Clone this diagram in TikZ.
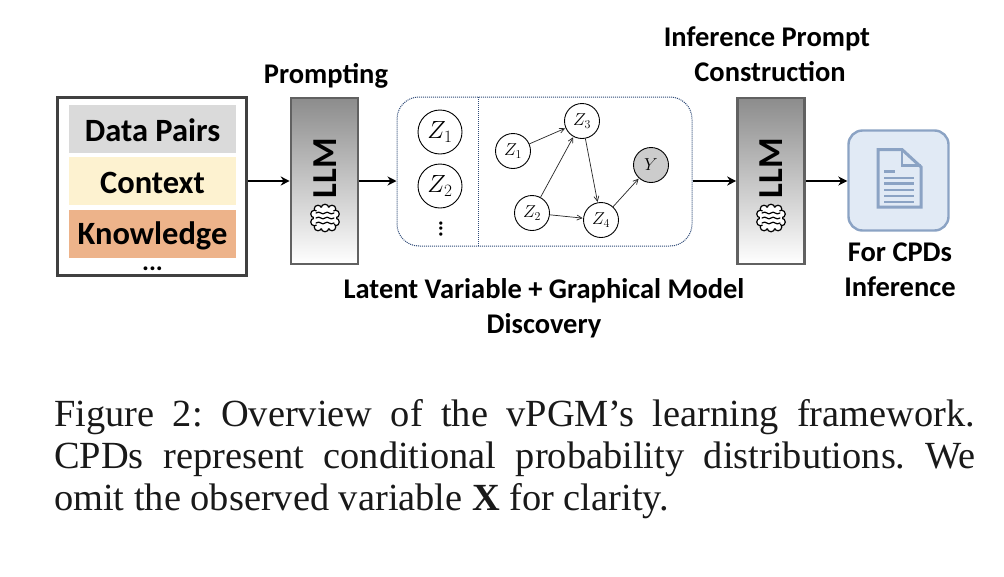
\documentclass[tikz,border=0pt]{standalone}
\usepackage{fontspec}
\setmainfont{Liberation Serif}
\newfontfamily\lab{Carlito}[BoldFont={Carlito Bold}]
\usetikzlibrary{arrows.meta}
\definecolor{docblue}{HTML}{8BA3C4}
\definecolor{docfill}{HTML}{E1EAF5}
\definecolor{dotblue}{HTML}{2F4A78}
\definecolor{barone}{HTML}{DADADA}
\definecolor{bartwo}{HTML}{FDF2D0}
\definecolor{barthree}{HTML}{EDB38A}
\tikzset{
  lbl/.style={font=\lab\bfseries\fontsize{28.5}{32}\selectfont,inner sep=0pt,text=black},
  barbox/.style={minimum width=167,minimum height=48,inner sep=0pt,font=\lab\bfseries\fontsize{32.5}{36}\selectfont},
  bartext/.style={font=\lab\bfseries\fontsize{32.5}{36}\selectfont,inner sep=0pt},
  llmbox/.style={draw=black!62,line width=2.6,minimum width=67,minimum height=166,inner sep=0pt,top color=black!45,bottom color=white},
  llmtext/.style={rotate=90,font=\lab\bfseries\fontsize{35}{38}\selectfont,inner sep=0pt},
  bigarrow/.style={line width=2.5,-{Stealth[length=9pt,width=9pt]}},
  var/.style={circle,draw=black,line width=0.9,fill=white,inner sep=0pt},
  varbig/.style={var,minimum size=44,font=\fontsize{24}{26}\selectfont},
  varsmall/.style={var,minimum size=35,font=\fontsize{18}{20}\selectfont},
  edge/.style={draw=black!85,line width=0.7,-{Straight Barb[length=5pt,width=5pt]},shorten >=0.5pt},
  docline/.style={draw=docblue,line width=2.1},
  capt/.style={font=\fontsize{38.4}{42}\selectfont,inner sep=0pt,anchor=west,text=black!90}
}
\newcommand{\brainicon}[2]{%
  \begin{scope}[shift={(#1,#2)}]
    \foreach \px/\py in {-7/-9,0/-10,7/-9,10.5/-4,10.5/4,7/9,0/10,-7/9,-10.5/4,-10.5/-4}
      \draw[black,line width=1.2,fill=white] (\px,\py) circle (3.8);
    \fill[white] (0,0) circle (11);
    \foreach \ly in {-5,0,5}
      \draw[black,line width=1.2,line cap=round] (-9,\ly) .. controls (-5,\ly-3) and (-3,\ly+3) .. (0,\ly) .. controls (3,\ly-3) and (5,\ly+3) .. (9,\ly);
  \end{scope}}
\begin{document}
\begin{tikzpicture}[x=1pt,y=-1pt]
\useasboundingbox[fill=white] (0,0) rectangle (1004,576);

% input box
\node[draw=black!75,line width=2.4,minimum width=189,minimum height=178,inner sep=0pt] (input) at (152,186.5) {};
\node[barbox,fill=barone] (pairs) at (152.5,129) {};
\node[barbox,fill=bartwo] (context) at (152.5,181) {};
\node[barbox,fill=barthree] (know) at (152.5,234) {};
\node[bartext] (pairstext) at (152.5,130) {Data Pairs};
\node[bartext] (contexttext) at (152.5,183) {Context};
\node[bartext] (knowtext) at (152.5,236) {Knowledge};
\node[font=\lab\bfseries\fontsize{26}{26}\selectfont,inner sep=0pt] (idots) at (152.5,269) {...};

% first LLM
\node[llmbox] (llma) at (324.5,181) {};
\node[llmtext] (llmatext) at (325,168) {LLM};
\brainicon{325}{218}
\node[lbl] (prompting) at (326,76) {Prompting};

% discovery panel
\node[draw=dotblue,densely dotted,line width=1,rounded corners=22,minimum width=295,minimum height=149,inner sep=0pt] (panel) at (544.5,171.5) {};
\draw[dotblue,densely dotted,line width=1] (478,97) -- (478,246);
\node[varbig] (la) at (440,132) {$Z_1$};
\node[varbig] (lb) at (440,186) {$Z_2$};
\node[rotate=90,font=\lab\bfseries\fontsize{22}{22}\selectfont,inner sep=0pt] (ldots) at (441,229) {...};
\node[varsmall] (za) at (513,151) {$Z_1$};
\node[varsmall] (zc) at (582,121) {$Z_3$};
\node[varsmall] (zb) at (532,213) {$Z_2$};
\node[varsmall] (zd) at (601,220) {$Z_4$};
\node[varsmall,fill=black!20] (y) at (651,165) {$Y$};
\draw[edge] (za) -- (zc);
\draw[edge] (zb) -- (zc);
\draw[edge] (zb) -- (zd);
\draw[edge] (zc) -- (zd);
\draw[edge] (zd) -- (y);

% second LLM
\node[llmbox] (llmb) at (771,181) {};
\node[llmtext] (llmbtext) at (771,168) {LLM};
\brainicon{771}{218}
\node[lbl] (infa) at (767,39) {Inference Prompt};
\node[lbl] (infb) at (770,72) {Construction};

% document
\node[draw=docblue,fill=docfill,line width=2.4,rounded corners=14,minimum width=100,minimum height=100,inner sep=0pt] (doc) at (898.5,180.5) {};
\draw[docline,line width=3,line join=miter] (878,149.5) -- (902,149.5) -- (921,167) -- (921,207) -- (878,207) -- cycle;
\draw[docline,line width=2.6] (902,149.5) -- (902,165.5) -- (921,165.5);
\draw[docline] (884,171.5) -- (895,171.5);
\foreach \ly in {178,183.5,190,196,202}
  \draw[docline] (884,\ly) -- (914,\ly);
\node[lbl] (cpda) at (900,252) {For CPDs};
\node[lbl] (cpdb) at (900,287) {Inference};

% arrows
\draw[bigarrow] (input.east |- llma.center) -- (llma.west);
\draw[bigarrow] (llma.east) -- (panel.west |- llma.center);
\draw[bigarrow] (panel.east |- llmb.center) -- (llmb.west);
\draw[bigarrow] (llmb.east) -- (doc.west |- llmb.center);

% labels under panel
\node[lbl] (disa) at (544,291) {Latent Variable + Graphical Model};
\node[lbl] (disb) at (544,326) {Discovery};

% caption
\node[capt,text width=921,align=justify] (cap) at (54,459) {\frenchspacing Figure 2: Overview of the vPGM's learning framework.\linebreak CPDs represent conditional probability distributions. We\linebreak omit the observed variable $\mathbf{X}$ for clarity.};
\end{tikzpicture}
\end{document}
